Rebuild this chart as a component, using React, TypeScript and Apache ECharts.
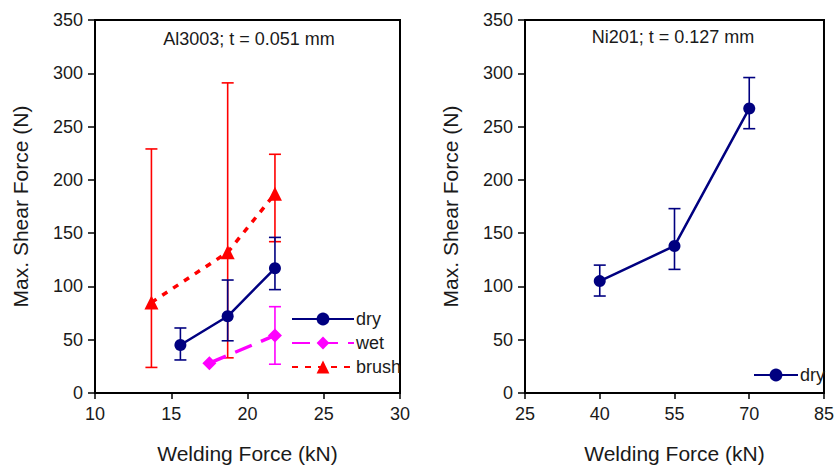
import React, { useEffect, useRef } from "react";
import * as echarts from "echarts";

// Left panel: Al3003; t = 0.051 mm
const alDryX = [15.6, 18.7, 21.8];
const alDryY = [45, 72, 117];
const alDryLow = [31, 49, 97];
const alDryHigh = [61, 106, 146];

const alWetX = [17.5, 21.8];
const alWetY = [28, 54];
const alWetLow = [null, 27];
const alWetHigh = [null, 81];

const alBrushX = [13.7, 18.7, 21.8];
const alBrushY = [85, 132, 187];
const alBrushLow = [24, 33, 142];
const alBrushHigh = [229, 291, 224];

// Right panel: Ni201; t = 0.127 mm
const niDryX = [40, 55, 70];
const niDryY = [105, 138, 267];
const niDryLow = [91, 116, 248];
const niDryHigh = [120, 173, 296];

const leftXTicks = { min: 10, max: 30, interval: 5 };
const rightXTicks = { min: 25, max: 85, interval: 15 };
const yTicks = { min: 0, max: 350, interval: 50 };

const FONT = "'Liberation Sans', Arial, sans-serif";
const TXT = "#1a1a1a";
const NAVY = "#000080";
const MAGENTA = "#ff00ff";
const RED = "#ff0000";

const pts = (xs: number[], ys: number[]) => xs.map((x, i) => [x, ys[i]]);
const errs = (xs: number[], lo: (number | null)[], hi: (number | null)[]) =>
  xs
    .map((x, i) => (lo[i] == null || hi[i] == null ? null : [x, lo[i], hi[i]]))
    .filter((d) => d !== null) as number[][];

function errSeries(name: string, data: number[][], color: string, gi: number) {
  return {
    type: "custom",
    name,
    xAxisIndex: gi,
    yAxisIndex: gi,
    data,
    encode: { x: 0, y: [1, 2] },
    z: 1,
    renderItem: (params: any, api: any) => {
      const x = api.value(0);
      const lo = api.coord([x, api.value(1)]);
      const hi = api.coord([x, api.value(2)]);
      const w = 6;
      const style = { stroke: color, lineWidth: 1.6, fill: "none" };
      return {
        type: "group",
        children: [
          { type: "line", shape: { x1: lo[0], y1: lo[1], x2: hi[0], y2: hi[1] }, style },
          { type: "line", shape: { x1: lo[0] - w, y1: lo[1], x2: lo[0] + w, y2: lo[1] }, style },
          { type: "line", shape: { x1: hi[0] - w, y1: hi[1], x2: hi[0] + w, y2: hi[1] }, style },
        ],
      };
    },
  };
}

function xAxis(gi: number, t: { min: number; max: number; interval: number }) {
  return {
    type: "value",
    gridIndex: gi,
    min: t.min,
    max: t.max,
    interval: t.interval,
    name: "Welding Force (kN)",
    nameLocation: "middle",
    nameGap: 50,
    nameTextStyle: { fontFamily: FONT, fontSize: 21, color: TXT },
    axisLine: { show: true, lineStyle: { color: "#000", width: 2 } },
    axisTick: { show: true, inside: false, length: 6, lineStyle: { color: "#000", width: 1.5 } },
    axisLabel: { fontFamily: FONT, fontSize: 18, color: TXT, margin: 12 },
    splitLine: { show: false },
  };
}

function yAxis(gi: number) {
  return {
    type: "value",
    gridIndex: gi,
    min: yTicks.min,
    max: yTicks.max,
    interval: yTicks.interval,
    name: "Max. Shear Force (N)",
    nameLocation: "middle",
    nameGap: 64,
    nameTextStyle: { fontFamily: FONT, fontSize: 21, color: TXT },
    axisLine: { show: true, lineStyle: { color: "#000", width: 2 } },
    axisTick: { show: true, inside: false, length: 7, lineStyle: { color: "#000", width: 1.5 } },
    axisLabel: { fontFamily: FONT, fontSize: 18, color: TXT, margin: 12 },
    splitLine: { show: false },
  };
}

export default function App() {
  const ref = useRef<HTMLDivElement>(null);
  useEffect(() => {
    if (!ref.current) return;
    const chart = echarts.init(ref.current, undefined, { renderer: "svg" });
    chart.setOption({
      animation: false,
      backgroundColor: "#fff",
      grid: [
        { left: 95, top: 20, width: 305, height: 376, show: true, borderColor: "#000", borderWidth: 2, backgroundColor: "transparent" },
        { left: 525, top: 20, width: 304, height: 376, show: true, borderColor: "#000", borderWidth: 2, backgroundColor: "transparent" },
      ],
      xAxis: [xAxis(0, leftXTicks), xAxis(1, rightXTicks)],
      yAxis: [yAxis(0), yAxis(1)],
      legend: [
        {
          data: ["dry", "wet", "brush"],
          orient: "vertical",
          left: 286,
          top: 305,
          itemWidth: 62,
          itemHeight: 16,
          itemGap: 6,
          textStyle: { fontFamily: FONT, fontSize: 18, lineHeight: 18, color: TXT, padding: [0, 0, 0, -3] },
        },
        {
          data: ["dry2"],
          formatter: () => "dry",
          orient: "vertical",
          left: 748,
          top: 361,
          itemWidth: 44,
          itemHeight: 16,
          textStyle: { fontFamily: FONT, fontSize: 18, lineHeight: 18, color: TXT, padding: [0, 0, 0, -3] },
        },
      ],
      graphic: [
        {
          type: "text",
          x: 249,
          y: 39,
          style: { text: "Al3003; t = 0.051 mm", font: `18px ${FONT}`, fill: TXT, textAlign: "center", textVerticalAlign: "middle" },
        },
        {
          type: "text",
          x: 673,
          y: 37,
          style: { text: "Ni201; t = 0.127 mm", font: `18px ${FONT}`, fill: TXT, textAlign: "center", textVerticalAlign: "middle" },
        },
      ],
      series: [
        errSeries("brush-err", errs(alBrushX, alBrushLow, alBrushHigh), RED, 0),
        errSeries("wet-err", errs(alWetX, alWetLow, alWetHigh), MAGENTA, 0),
        errSeries("dry-err", errs(alDryX, alDryLow, alDryHigh), NAVY, 0),
        errSeries("dry2-err", errs(niDryX, niDryLow, niDryHigh), NAVY, 1),
        {
          type: "line",
          name: "brush",
          xAxisIndex: 0,
          yAxisIndex: 0,
          data: pts(alBrushX, alBrushY),
          symbol: "triangle",
          symbolSize: 14,
          itemStyle: { color: RED },
          lineStyle: { color: RED, width: 3.5, type: [6, 7] },
          z: 3,
        },
        {
          type: "line",
          name: "wet",
          xAxisIndex: 0,
          yAxisIndex: 0,
          data: pts(alWetX, alWetY),
          symbol: "diamond",
          symbolSize: 14,
          itemStyle: { color: MAGENTA },
          lineStyle: { color: MAGENTA, width: 3.5, type: [18, 10] },
          z: 3,
        },
        {
          type: "line",
          name: "dry",
          xAxisIndex: 0,
          yAxisIndex: 0,
          data: pts(alDryX, alDryY),
          symbol: "circle",
          symbolSize: 12,
          itemStyle: { color: NAVY },
          lineStyle: { color: NAVY, width: 2.5 },
          z: 4,
        },
        {
          type: "line",
          name: "dry2",
          xAxisIndex: 1,
          yAxisIndex: 1,
          data: pts(niDryX, niDryY),
          symbol: "circle",
          symbolSize: 12,
          itemStyle: { color: NAVY },
          lineStyle: { color: NAVY, width: 2.5 },
          z: 4,
        },
      ],
    });
    return () => chart.dispose();
  }, []);
  return (
    <div
      ref={ref}
      style={{ position: "fixed", left: 0, top: 0, width: 837, height: 469, background: "#fff" }}
    />
  );
}
